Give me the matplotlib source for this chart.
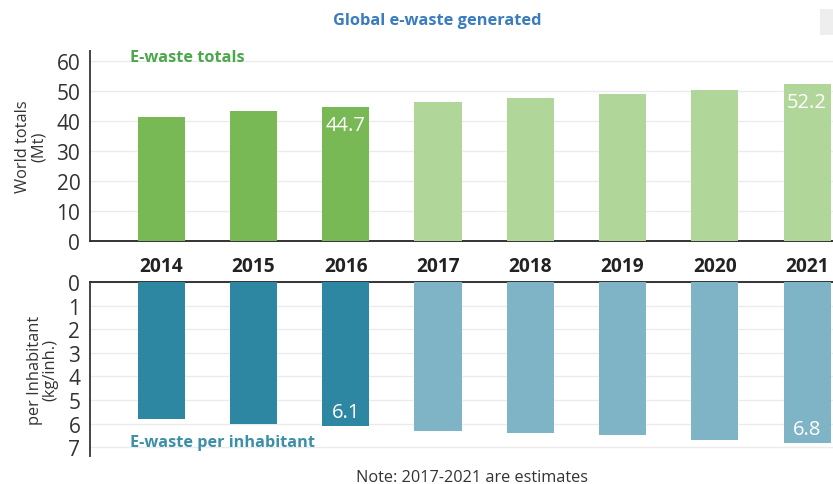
import matplotlib
matplotlib.use("Agg")
import matplotlib.pyplot as plt
from matplotlib.patches import Rectangle

plt.rcParams['font.family'] = ['Open Sans', 'DejaVu Sans']

years = ["2014", "2015", "2016", "2017", "2018", "2019", "2020", "2021"]
totals_mt = [41.3, 43.2, 44.7, 46.3, 47.7, 49.1, 50.4, 52.2]
per_inhabitant = [5.8, 6.0, 6.1, 6.3, 6.4, 6.5, 6.7, 6.8]
estimate = [False, False, False, True, True, True, True, True]
labelled = {"2016", "2021"}

green_dark, green_light = "#79b955", "#b1d699"
teal_dark, teal_light = "#2e87a2", "#7fb4c7"
grid_c = "#ebebeb"
axis_c = "#333333"

fig = plt.figure(figsize=(8.33, 4.85), dpi=100)
ax1 = fig.add_axes([90/833, 1-242/485, 1-90/833, (242-52)/485])
ax2 = fig.add_axes([90/833, 1-457/485, 1-90/833, (457-283)/485])

x = list(range(len(years)))
w = 0.51
xl = (-0.77, 7.28)

ax1.bar(x, totals_mt, width=w,
        color=[green_light if e else green_dark for e in estimate], zorder=3)
ax2.bar(x, per_inhabitant, width=w,
        color=[teal_light if e else teal_dark for e in estimate], zorder=3)

ax1.set_xlim(*xl)
ax2.set_xlim(*xl)
ax1.set_ylim(0, 63.3)
ax2.set_ylim(7.37, 0)

ax1.set_yticks(range(0, 61, 10))
ax2.set_yticks(range(0, 8))
for ax in (ax1, ax2):
    ax.grid(axis='y', color=grid_c, linewidth=1, zorder=0)
    ax.set_axisbelow(True)
    ax.tick_params(axis='y', length=0, labelsize=15, labelcolor=axis_c, pad=7)
    ax.spines['right'].set_visible(False)
    ax.spines['left'].set_color('#444444')
    ax.spines['left'].set_linewidth(1.4)

ax1.spines['top'].set_visible(False)
ax1.spines['bottom'].set_color(axis_c)
ax1.spines['bottom'].set_linewidth(1.4)
ax2.spines['bottom'].set_visible(False)
ax2.spines['top'].set_color(axis_c)
ax2.spines['top'].set_linewidth(1.4)

ax1.set_xticks(x)
ax1.set_xticklabels(years, fontsize=13.8, fontweight='bold', color='#222222')
ax1.tick_params(axis='x', length=0, pad=11)
ax2.set_xticks([])

ax1.set_ylabel("World totals\n(Mt)", fontsize=11.8, color=axis_c, linespacing=1.0, labelpad=7)
ax2.set_ylabel("per Inhabitant\n(kg/inh.)", fontsize=11.8, color=axis_c, linespacing=1.0, labelpad=7)

for i, (yr, v) in enumerate(zip(years, totals_mt)):
    if yr in labelled:
        ax1.annotate(f"{v:.1f}", (i, v), xytext=(0, -13), textcoords='offset points',
                     ha='center', va='center', color='white', fontsize=14.5)
for i, (yr, v) in enumerate(zip(years, per_inhabitant)):
    if yr in labelled:
        ax2.annotate(f"{v:.1f}", (i, v), xytext=(0, 10), textcoords='offset points',
                     ha='center', va='center', color='white', fontsize=14.5)

fig.text(130/833, 1-58/485, "E-waste totals", ha='left',
         va='center', fontsize=11.7, fontweight='bold', color='#4aa84a')
fig.text(130/833, 1-443/485, "E-waste per inhabitant",
         ha='left', va='center', fontsize=11.7, fontweight='bold', color='#3b8fa8')
fig.text(437/833, 1-21/485, "Global e-waste generated", ha='center', va='center',
         fontsize=11.8, fontweight='bold', color='#3a7cbd')
fig.text(472/833, 1-478/485, "Note: 2017-2021 are estimates", ha='center', va='center',
         fontsize=11.7, color='#333333')
fig.patches.append(Rectangle((820/833, 1-36/485), 13/833, 26/485,
                             transform=fig.transFigure, facecolor='#eeeeee',
                             edgecolor='none', zorder=0))

fig.savefig("out.png", dpi=100)
